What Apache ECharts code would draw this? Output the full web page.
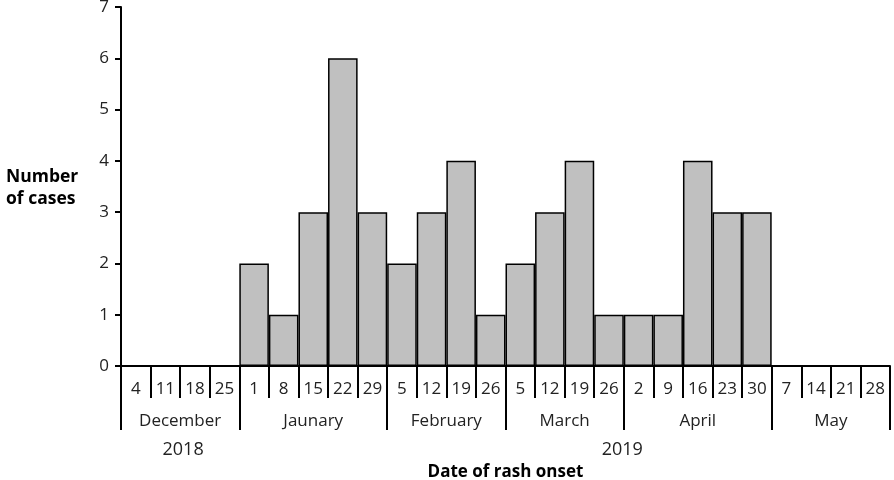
<!DOCTYPE html>
<html>
<head>
<meta charset="utf-8">
<script src="https://cdn.jsdelivr.net/npm/echarts@6/dist/echarts.min.js"></script>
<style>
  html, body { margin: 0; padding: 0; background: #fff; }
  #chart { width: 894px; height: 480px; }
</style>
</head>
<body>
<div id="chart"></div>
<script>
// week start days (rash onset), Dec 2018 - May 2019
const weeks = ['4', '11', '18', '25',
  '1', '8', '15', '22', '29',
  '5', '12', '19', '26',
  '5', '12', '19', '26',
  '2', '9', '16', '23', '30',
  '7', '14', '21', '28']
const cases = [0, 0, 0, 0,
  2, 1, 3, 6, 3,
  2, 3, 4, 1,
  2, 3, 4, 1,
  1, 1, 4, 3, 3,
  0, 0, 0, 0]
const months = ['December', 'Jaunary', 'February', 'March', 'April', 'May']
const monthWeeks = [4, 5, 4, 4, 5, 4]
const years = ['2018', '2019']

// month boundaries and centres in week units
const monthEdges = [0]
monthWeeks.forEach(n => monthEdges.push(monthEdges[monthEdges.length - 1] + n))
const monthMids = monthWeeks.map((n, i) => monthEdges[i] + n / 2)
const yearPos = [2.1, 16.95]

const font = '"Open Sans", "Noto Sans", sans-serif'
const txt = '#222'

const chart = echarts.init(document.getElementById('chart'))
const option = {
  animation: false,
  title: {
    text: 'Number\nof cases',
    left: 1,
    top: 161,
    textStyle: { fontFamily: font, fontWeight: 'bold', fontSize: 17.5, lineHeight: 22, color: '#000' }
  },
  grid: { left: 121, right: 4, top: 7, bottom: 114, outerBoundsMode: 'none', containLabel: false },
  xAxis: [
    {
      type: 'category',
      data: weeks,
      position: 'bottom',
      axisLine: { lineStyle: { color: '#000', width: 2 } },
      axisTick: { show: true, interval: 0, length: 32, lineStyle: { color: '#000', width: 2 } },
      axisLabel: { interval: 0, margin: 15, fontFamily: font, fontSize: 17, color: txt }
    },
    {
      type: 'value',
      min: 0,
      max: 26,
      position: 'bottom',
      splitLine: { show: false },
      axisLine: { show: false },
      axisTick: { show: true, customValues: monthEdges, length: 64, lineStyle: { color: '#000', width: 2 } },
      axisLabel: {
        customValues: monthMids,
        margin: 47,
        fontFamily: font, fontSize: 17, color: txt,
        formatter: v => months[monthMids.indexOf(v)] || ''
      }
    },
    {
      type: 'value',
      min: 0,
      max: 26,
      position: 'bottom',
      splitLine: { show: false },
      axisLine: { show: false },
      axisTick: { show: false },
      axisLabel: {
        customValues: yearPos,
        margin: 75,
        fontFamily: font, fontSize: 18, color: txt,
        formatter: v => years[yearPos.indexOf(v)] || ''
      },
      name: 'Date of rash onset',
      nameLocation: 'middle',
      nameGap: 98,
      nameTextStyle: { fontFamily: font, fontWeight: 'bold', fontSize: 17, color: '#000' }
    }
  ],
  yAxis: {
    type: 'value',
    min: 0,
    max: 7,
    interval: 1,
    splitLine: { show: false },
    axisLine: { show: true, lineStyle: { color: '#000', width: 2 } },
    axisTick: { show: true, length: 6, lineStyle: { color: '#000', width: 2 } },
    axisLabel: { margin: 12, fontFamily: font, fontSize: 17, color: txt }
  },
  series: [
    {
      type: 'bar',
      xAxisIndex: 0,
      data: cases,
      barCategoryGap: 0,
      itemStyle: { color: '#c0c0c0', borderColor: '#000', borderWidth: 1.5 }
    }
  ]
}
chart.setOption(option)
</script>
</body>
</html>
